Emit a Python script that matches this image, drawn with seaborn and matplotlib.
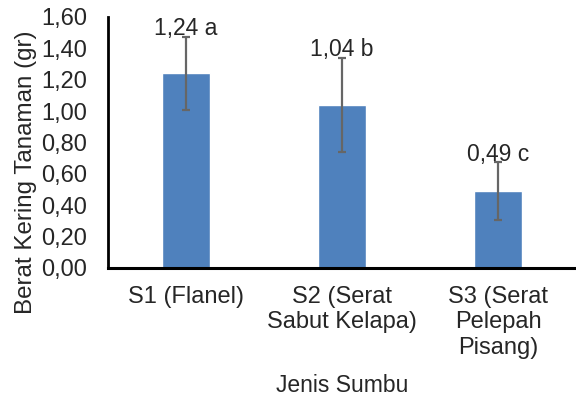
import pandas as pd
import numpy as np
import matplotlib
matplotlib.use("Agg")
import matplotlib.pyplot as plt
import seaborn as sns

# data
perlakuan = ["S1 (Flanel)", "S2 (Serat\nSabut Kelapa)", "S3 (Serat\nPelepah\nPisang)"]
berat = [1.24, 1.04, 0.49]
galat = [0.235, 0.30, 0.185]
notasi = ["1,24 a", "1,04 b", "0,49 c"]

df = pd.DataFrame({"perlakuan": perlakuan, "berat": berat, "galat": galat})

sns.set_style("white")
plt.rcParams["font.family"] = ["Liberation Sans", "DejaVu Sans"]

fig, ax = plt.subplots(figsize=(5.76, 4.03), dpi=100)
fig.subplots_adjust(left=0.1875, right=1.0, top=0.958, bottom=0.335)

sns.barplot(data=df, x="perlakuan", y="berat", color="#4F81BD", saturation=1,
            width=0.31, errorbar=None, ax=ax)

ax.errorbar(x=np.arange(len(df)), y=df["berat"], yerr=df["galat"], fmt="none",
            ecolor="#666666", elinewidth=1.6, capsize=3, capthick=1.6)

# label notasi di atas error bar
for i, row in df.iterrows():
    ax.annotate(notasi[i], xy=(i, row["berat"] + row["galat"]), xytext=(0, 1),
                textcoords="offset points", ha="center", va="baseline", fontsize=16.5)

ax.set_ylim(0, 1.6)
ax.set_xlim(-0.5, 2.5)
ax.set_yticks(np.arange(0, 1.61, 0.2))
ax.set_yticklabels([f"{v:.2f}".replace(".", ",") for v in np.arange(0, 1.61, 0.2)])

ax.tick_params(axis="y", length=0, pad=15, labelsize=17)
ax.tick_params(axis="x", length=0, pad=13, labelsize=17)
for lbl in ax.get_xticklabels():
    lbl.set_multialignment("center")

ax.set_xlabel("Jenis Sumbu", fontsize=16.5, labelpad=11)
ax.set_ylabel("Berat Kering Tanaman (gr)", fontsize=17.4)
ax.yaxis.set_label_coords(-0.152, 0.382)

sns.despine(ax=ax, top=True, right=True)
ax.spines["left"].set_linewidth(2)
ax.spines["bottom"].set_linewidth(2.2)
ax.spines["left"].set_color("black")
ax.spines["bottom"].set_color("black")

fig.savefig("out.png", dpi=100)
